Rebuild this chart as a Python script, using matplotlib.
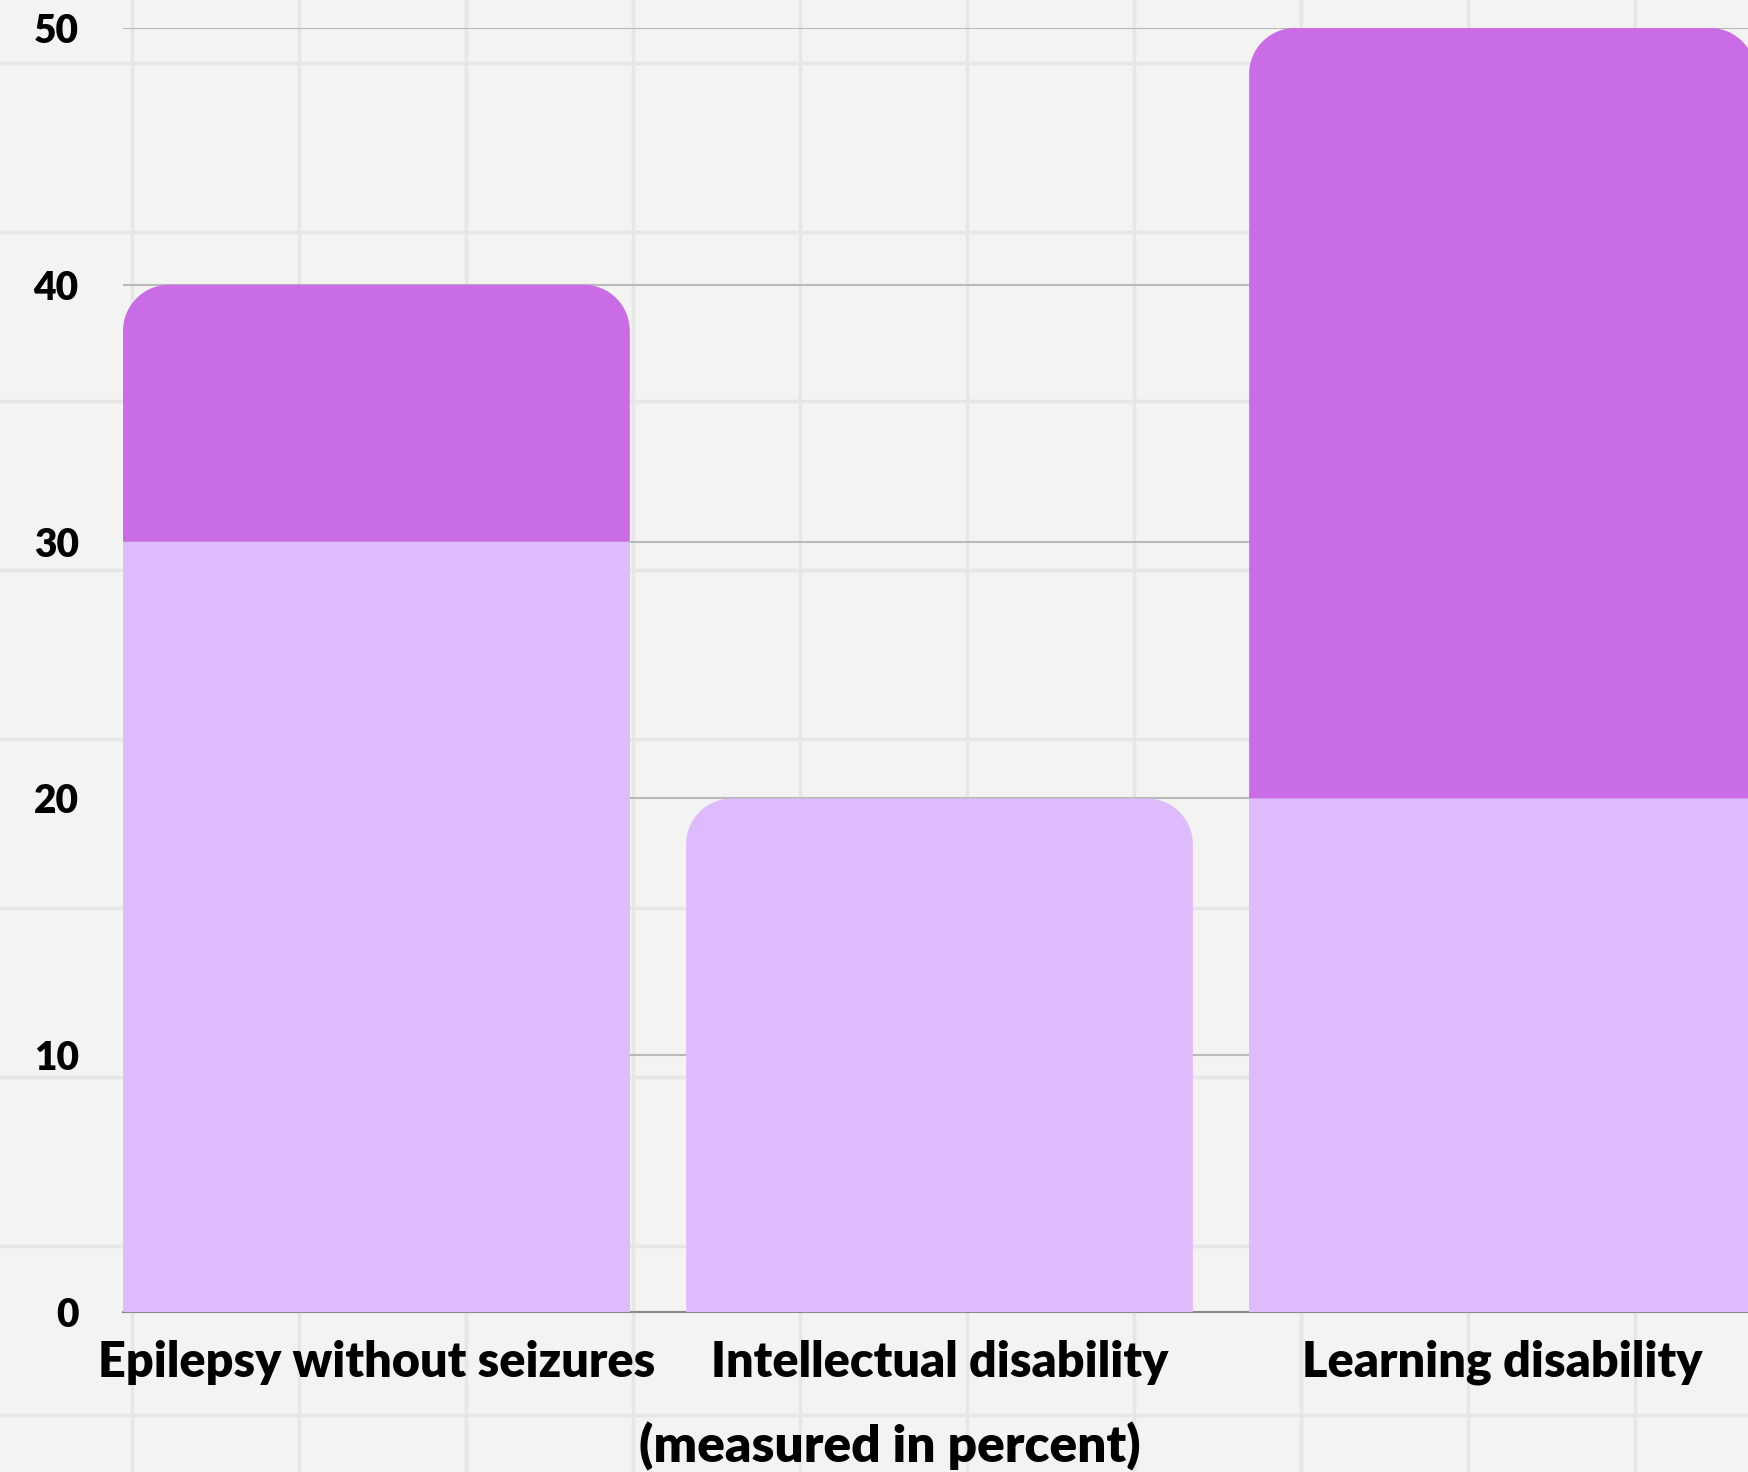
import matplotlib
matplotlib.use("Agg")
import matplotlib.pyplot as plt
import numpy as np
from matplotlib.path import Path
from matplotlib.patches import PathPatch

categories = ["Epilepsy without seizures", "Intellectual disability", "Learning disability"]
lower_vals = [30, 20, 20]
upper_vals = [10, 0, 30]
y_ticks = [0, 10, 20, 30, 40, 50]
x_title = "(measured in percent)"

light = "#ddbbfd"
dark = "#c96ce6"
paper = "#f3f3f1"

plt.rcParams['font.family'] = ['Lato', 'DejaVu Sans']


def rounded_top(rect, r_px, ax):
    # swap a plain bar rectangle for one with rounded upper corners
    x0, y0 = rect.get_x(), rect.get_y()
    w, h = rect.get_width(), rect.get_height()
    x1, y1 = x0 + w, y0 + h
    p0 = ax.transData.transform((0, 0))
    p1 = ax.transData.transform((1, 1))
    rx = r_px / abs(p1[0] - p0[0])
    ry = r_px / abs(p1[1] - p0[1])
    k = 0.5523
    verts = [(x0, y0), (x0, y1 - ry),
             (x0, y1 - ry + k * ry), (x0 + rx - k * rx, y1), (x0 + rx, y1),
             (x1 - rx, y1),
             (x1 - rx + k * rx, y1), (x1, y1 - ry + k * ry), (x1, y1 - ry),
             (x1, y0), (x0, y0)]
    codes = [Path.MOVETO, Path.LINETO,
             Path.CURVE4, Path.CURVE4, Path.CURVE4,
             Path.LINETO,
             Path.CURVE4, Path.CURVE4, Path.CURVE4,
             Path.LINETO, Path.CLOSEPOLY]
    patch = PathPatch(Path(verts, codes), facecolor=rect.get_facecolor(),
                      edgecolor='none', zorder=rect.get_zorder())
    rect.remove()
    ax.add_patch(patch)


fig = plt.figure(figsize=(17.48, 14.72), dpi=100)
fig.patch.set_facecolor(paper)

# graph-paper background
bg = fig.add_axes([0, 0, 1, 1], zorder=-5)
bg.set_facecolor(paper)
bg.set_xlim(0, 1748)
bg.set_ylim(1472, 0)
bg.axis('off')
for gx in np.arange(132, 1748, 167):
    bg.axvline(gx, color="#e6e6e4", lw=2.5)
for gy in np.arange(63, 1472, 169):
    bg.axhline(gy, color="#e6e6e4", lw=2.5)

ax = fig.add_axes([0.0704, 0.1087, 0.9296, 0.8723])
ax.set_facecolor('none')
ax.set_xlim(-0.45, 2.436)
ax.set_ylim(0, 50)

x = np.arange(len(categories))
low = ax.bar(x, lower_vals, width=0.9, color=light, zorder=2)
up = ax.bar(x, upper_vals, bottom=lower_vals, width=0.9, color=dark, zorder=2)

for i in range(len(categories)):
    top = up[i] if upper_vals[i] > 0 else low[i]
    rounded_top(top, 46, ax)

ax.set_yticks(y_ticks)
ax.set_xticks(x)
ax.set_xticklabels(categories)
ax.yaxis.grid(True, color="#b9b9b9", lw=1.5)
ax.set_axisbelow(True)
for s in ['top', 'right', 'left']:
    ax.spines[s].set_visible(False)
ax.spines['bottom'].set_color("#8a8a8a")
ax.spines['bottom'].set_linewidth(1.5)
ax.spines['bottom'].set_zorder(1)
ax.tick_params(axis='both', length=0)
ax.tick_params(axis='y', pad=32, labelsize=28)
ax.tick_params(axis='x', pad=20, labelsize=35)
for lab in ax.get_xticklabels() + ax.get_yticklabels():
    lab.set_fontweight('heavy')
    lab.set_color('black')

ax.set_xlabel(x_title, fontsize=37, fontweight='heavy', color='black')
ax.xaxis.set_label_coords(0.472, -0.1044)
ax.xaxis.label.set_va('center')

fig.savefig('out.png', dpi=100, facecolor=paper)
